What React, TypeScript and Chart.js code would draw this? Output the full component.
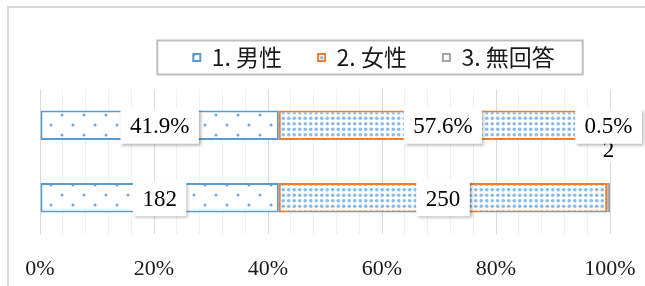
import React, { useEffect, useRef } from 'react';
import { Chart, registerables } from 'chart.js';

Chart.register(...registerables);

// ---- data ----
const categories = ['構成比', '人数'];
const seriesNames = ['1. 男性', '2. 女性', '3. 無回答'];
const percentValues = [41.9, 57.6, 0.5];
const countValues = [182, 250, 2];
const xTickValues = [0, 20, 40, 60, 80, 100];

const seriesBorder = ['#5b9bd5', '#ed7d31', '#a5a5a5'];

function makePattern(kind: number): CanvasPattern | string {
  const c = document.createElement('canvas');
  if (kind === 2) return '#ffffff';
  if (kind === 0) {
    c.width = 22;
    c.height = 20;
  } else {
    c.width = 11;
    c.height = 11;
  }
  const g = c.getContext('2d')!;
  g.fillStyle = '#ffffff';
  g.fillRect(0, 0, c.width, c.height);
  const dot = (x: number, y: number, r: number, col: string) => {
    g.beginPath();
    g.arc(x, y, r, 0, Math.PI * 2);
    g.fillStyle = col;
    g.fill();
  };
  if (kind === 0) {
    dot(7, 5, 1.5, '#6fa6de');
    dot(18, 15, 1.5, '#6fa6de');
  } else {
    const pts = [2.75, 8.25];
    for (const px of pts) for (const py of pts) dot(px, py, 1.8, '#8dbbe9');
  }
  return g.createPattern(c, 'repeat')!;
}

const isMajor = (v: number) => xTickValues.some((t) => Math.abs(t - v) < 1e-6);

export default function App() {
  const ref = useRef<HTMLCanvasElement | null>(null);

  useEffect(() => {
    document.body.style.margin = '0';
    const canvas = ref.current!;
    const patterns = [0, 1, 2].map(makePattern);

    const framePlugin = {
      id: 'frame',
      afterInit(chart: any) {
        const legend = chart.legend;
        if (legend && !legend.__patched) {
          const orig = legend.fit.bind(legend);
          legend.fit = function () {
            orig();
            this.height += 10;
          };
          legend.__patched = true;
        }
      },
      afterLayout(chart: any) {
        const legend = chart.legend;
        if (legend) {
          legend.left += 49;
          legend.right += 49;
        }
      },
      beforeDraw(chart: any) {
        const ctx = chart.ctx;
        ctx.save();
        ctx.fillStyle = '#ffffff';
        ctx.fillRect(0, 0, chart.width, chart.height);
        ctx.strokeStyle = '#d9d9d9';
        ctx.lineWidth = 2;
        ctx.strokeRect(8, 7, chart.width + 20, chart.height + 20);
        ctx.restore();
      },
      afterDraw(chart: any) {
        const legend = chart.legend;
        if (!legend || !legend.legendHitBoxes || !legend.legendHitBoxes.length) return;
        const hb = legend.legendHitBoxes;
        const first = hb[0];
        const last = hb[hb.length - 1];
        const cy = first.top + first.height / 2;
        const ctx = chart.ctx;
        ctx.save();
        ctx.strokeStyle = '#bfbfbf';
        ctx.lineWidth = 2;
        ctx.strokeRect(first.left - 36, cy - 17, last.left + last.width + 28 - (first.left - 36), 34);
        ctx.restore();
      },
    };

    const labelPlugin = {
      id: 'barLabels',
      afterDatasetsDraw(chart: any) {
        const ctx = chart.ctx;
        ctx.save();
        ctx.font = '23px "Liberation Serif", serif';
        ctx.textAlign = 'center';
        ctx.textBaseline = 'middle';
        // draw second row first so first row boxes sit on top
        for (let row = categories.length - 1; row >= 0; row--) {
          chart.data.datasets.forEach((ds: any, i: number) => {
            const meta = chart.getDatasetMeta(i);
            const bar = meta.data[row] as any;
            if (!bar) return;
            const text = row === 0 ? percentValues[i].toFixed(1) + '%' : String(countValues[i]);
            const cx = (bar.x + bar.base) / 2;
            const displaced = row === 1 && i === 2;
            const cy = bar.y + 1 + (displaced ? -49 : 0);
            const tw = ctx.measureText(text).width;
            const w = tw + (displaced ? 4 : 19);
            const h = displaced ? 24 : 35;
            ctx.save();
            if (!displaced) {
              ctx.shadowColor = 'rgba(0,0,0,0.3)';
              ctx.shadowBlur = 3;
              ctx.shadowOffsetX = 2;
              ctx.shadowOffsetY = 2;
            }
            ctx.fillStyle = '#ffffff';
            ctx.fillRect(cx - w / 2, cy - h / 2, w, h);
            ctx.restore();
            ctx.fillStyle = '#000000';
            ctx.fillText(text, cx, cy + 1);
          });
        }
        ctx.restore();
      },
    };

    const chart = new Chart(canvas, {
      type: 'bar',
      data: {
        labels: categories,
        datasets: seriesNames.map((name, i) => ({
          label: name,
          data: categories.map(() => percentValues[i]),
          backgroundColor: patterns[i] as any,
          borderColor: seriesBorder[i],
          borderWidth: 2,
          borderSkipped: false,
          barPercentage: 1,
          categoryPercentage: 0.405,
        })),
      },
      options: {
        indexAxis: 'y',
        animation: false,
        responsive: false,
        layout: { padding: { left: 40, right: 35, top: 10, bottom: 0 } },
        plugins: {
          legend: {
            position: 'top',
            labels: {
              boxWidth: 7,
              boxHeight: 7,
              padding: 36,
              color: '#1a1a1a',
              font: { family: '"Noto Sans CJK JP", sans-serif', size: 23 },
            },
          },
          tooltip: { enabled: false },
        },
        scales: {
          x: {
            stacked: true,
            min: 0,
            max: 100,
            position: 'bottom',
            border: { display: false },
            afterFit: (scale: any) => {
              scale.height = 52;
              scale.paddingLeft = 0;
              scale.paddingRight = 0;
            },
            grid: {
              drawTicks: false,
              lineWidth: 1,
              color: (c: any) => (c.tick && isMajor(c.tick.value) ? '#d9d9d9' : '#f0f0f0'),
            },
            ticks: {
              stepSize: 4,
              autoSkip: false,
              maxRotation: 0,
              padding: 22,
              color: '#1a1a1a',
              font: { family: '"Liberation Serif", serif', size: 22 },
              callback: (v: any) => (isMajor(Number(v)) ? Math.round(Number(v)) + '%' : ''),
            },
          },
          y: {
            stacked: true,
            display: false,
          },
        },
      },
      plugins: [framePlugin, labelPlugin],
    });

    return () => chart.destroy();
  }, []);

  return (
    <div style={{ width: 645, height: 286 }}>
      <canvas ref={ref} width={645} height={286} style={{ display: 'block', width: 645, height: 286 }} />
    </div>
  );
}
